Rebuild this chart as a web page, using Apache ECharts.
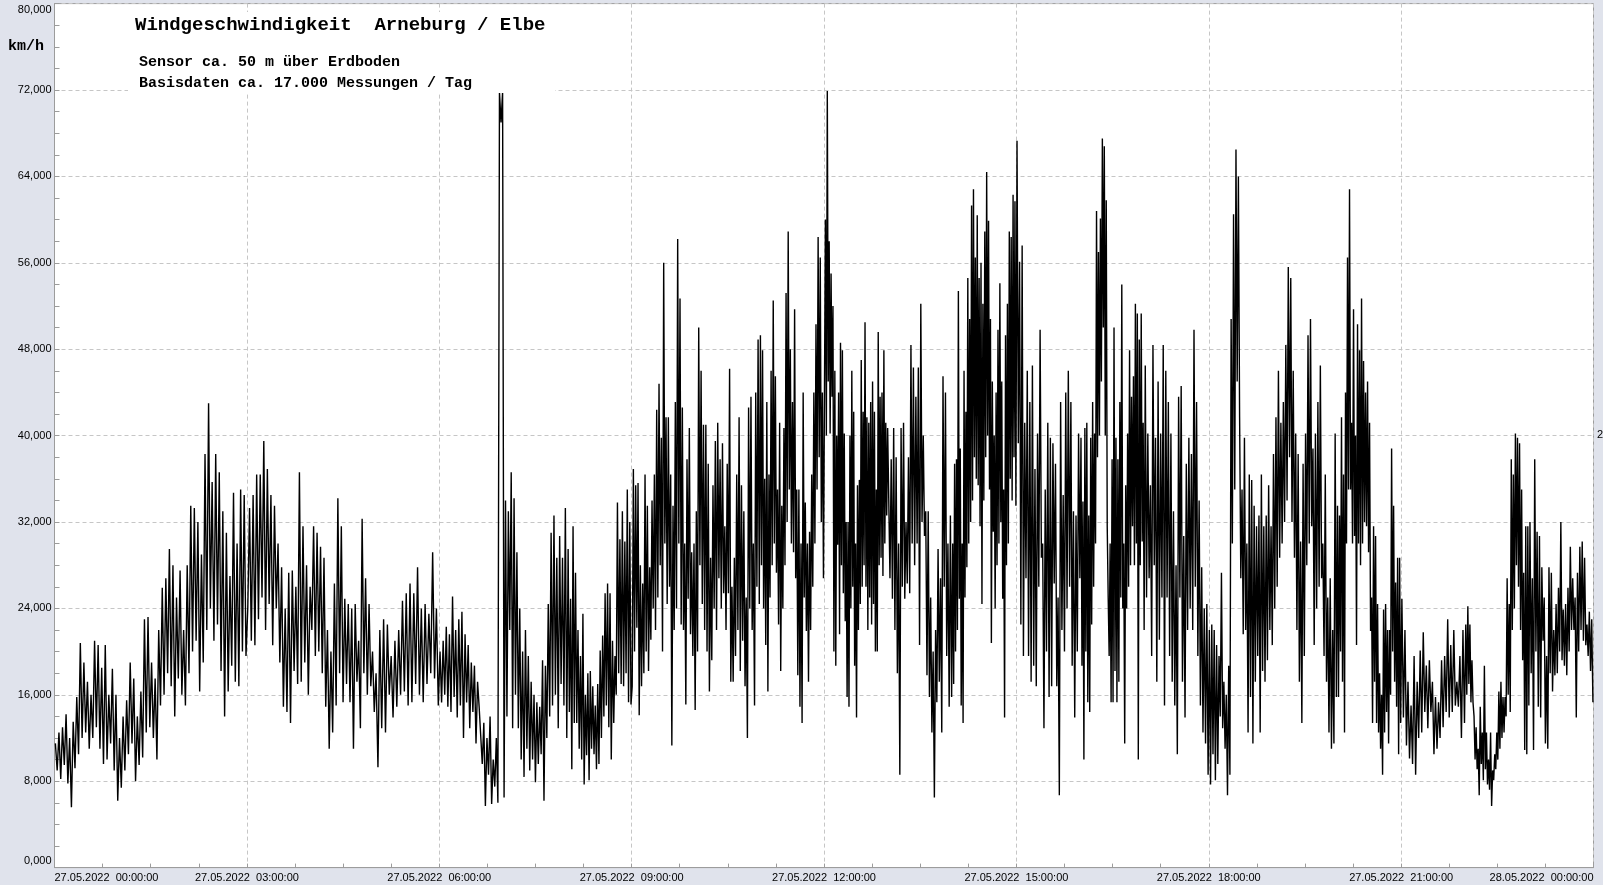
<!DOCTYPE html>
<html>
<head>
<meta charset="utf-8">
<script src="https://cdn.jsdelivr.net/npm/echarts@6/dist/echarts.min.js"></script>
<style>
html,body{margin:0;padding:0;background:#E0E3EC;}
#chart{width:1603px;height:885px;}
</style>
</head>
<body>
<div id="chart"></div>
<script>
// ---- tick labels ----
const xTickLabels = ['27.05.2022  00:00:00','27.05.2022  03:00:00','27.05.2022  06:00:00','27.05.2022  09:00:00',
  '27.05.2022  12:00:00','27.05.2022  15:00:00','27.05.2022  18:00:00','27.05.2022  21:00:00','28.05.2022  00:00:00'];
const yTickLabels = ['0,000','8,000','16,000','24,000','32,000','40,000','48,000','56,000','64,000','72,000','80,000'];

// ---- wind speed (km/h), one array per hour, values evenly spread across the hour ----
const h00 = [11.5,9.0,12.5,8.2,13.0,9.5,14.2,7.8,12.0,5.6,13.5,9.2,15.8,10.5,20.8,12.0,19.0,12.5,17.2,11.0,16.0,12.0,21.0,13.0,20.6,11.0,18.5,9.6,20.6,10.0,16.0,11.5,18.4,9.0,16.0,6.2];
const h01 = [12.0,7.4,14.0,9.0,15.5,10.5,19.0,11.5,17.5,8.0,14.0,9.5,16.3,10.2,23.0,12.5,23.2,13.0,19.0,12.0,17.5,10.0,22.0,15.0,25.9,16.0,26.8,18.0,29.5,16.8,28.0,14.0,25.0,17.5,27.5,16.0];
const h02 = [22.0,15.0,28.0,18.0,33.5,20.0,33.3,21.0,32.0,16.3,29.0,19.0,38.3,22.0,43.0,24.0,35.7,21.0,38.3,22.5,36.6,18.2,33.0,14.0,31.0,16.3,27.0,18.7,34.7,17.2,30.0,16.8,35.0,20.0,34.5,19.6];
const h03 = [24.0,33.3,21.0,34.5,20.6,36.4,23.0,36.4,25.0,39.5,22.0,36.9,24.4,34.5,20.6,33.5,24.0,30.0,19.0,27.8,14.9,24.0,14.4,27.3,13.4,27.5,18.2,26.0,17.0,36.6,17.2,31.6,19.0,28.0,16.0,26.0];
const h04 = [22.0,31.6,19.6,31.0,20.0,29.7,18.0,28.7,14.9,22.0,11.0,20.0,12.5,26.3,15.0,34.2,18.0,31.6,15.3,24.9,17.0,24.4,15.3,24.0,11.0,24.4,17.2,21.0,12.9,32.3,18.0,26.8,16.0,24.4,16.8,20.0,14.4];
const h05 = [18.0,9.3,22.0,12.9,23.0,12.5,22.5,16.0,19.6,13.9,21.0,14.9,22.0,16.0,24.7,16.3,25.4,15.0,26.3,15.3,25.4,17.0,27.8,16.0,24.0,15.3,24.4,17.0,23.5,18.0,29.2,17.5,24.0,15.0];
const h06 = [20.0,15.3,21.0,16.0,22.3,14.9,21.6,14.4,25.1,15.8,22.0,13.9,23.0,15.0,23.7,12.0,21.6,15.3,20.6,12.9,19.0,14.4,18.7,11.5,17.2,14.9,15.0,9.6,13.4,5.7,12.0,8.6,14.0,5.9,10.0,7.5,12.0,6.0,71.8,69.0,71.8];
const h07 = [6.5,34.0,14.0,33.0,22.0,36.6,12.9,34.2,16.0,29.2,12.9,24.0,10.0,20.0,8.4,22.0,11.0,19.6,9.0,17.2,10.0,16.0,7.9,15.3,9.6,14.9,10.5,19.2,6.2,18.7,12.0,24.4,14.0,31.0,15.0,32.6,16.0,28.7,12.9,30.7,17.0,28.7,15.0,33.3,12.0];
const h08 = [29.5,14.4,24.9,9.1,31.6,13.4,27.3,13.4,22.0,11.0,19.6,10.0,23.5,7.7,16.0,10.4,18.0,8.1,18.2,11.0,16.8,10.5,15.0,9.1,17.0,9.6,20.1,12.0,21.5,14.0,25.4,15.0,26.3,13.0,25.4,10.0,21.0,13.4,19.6,16.0,33.8,18.0,30.4,17.0,33.0,16.8,30.2,18.0,35.0,15.3,32.0,15.1];
const h09 = [16.8,36.9,20.0,35.4,22.2,35.6,14.1,28.0,16.8,26.3,18.0,36.4,20.0,33.5,18.2,27.8,21.1,34.0,24.0,36.4,22.0,42.4,25.0,44.8,28.0,39.8,20.0,56.0,30.0,41.7,24.4,41.7,26.0,36.4,11.3,33.5,22.0,43.1,24.0,58.2,30.0,52.7,22.5,42.6,22.0,30.0,15.1,37.8,24.9,40.7,21.6,29.2,19.6,30.0,14.6];
const h10 = [33.0,20.0,50.0,28.0,46.0,24.4,41.0,22.0,41.0,20.0,37.4,16.3,28.7,19.2,35.4,24.0,39.5,22.0,41.2,26.8,37.8,24.0,39.3,25.4,31.6,22.0,37.4,25.4,46.2,17.2,26.0,17.2,28.7,19.6,36.4,22.0,41.7,18.2,35.4,21.0,33.0,16.8,25.0,12.0,42.6,24.0,43.6,22.0,30.0,15.0,44.0,26.0,48.9,24.4];
const h11 = [49.3,28.0,47.9,24.0,36.0,20.6,43.1,16.3,36.4,25.0,46.0,28.0,52.5,30.0,45.5,27.3,35.0,22.5,41.2,18.2,33.5,24.0,40.7,28.0,53.2,32.0,58.9,35.0,48.0,30.0,43.1,29.2,51.7,26.8,35.0,17.8,35.0,14.9,30.0,13.4,44.0,25.0,33.8,21.9,30.0,17.2,31.1,22.0,36.4,26.0,44.0,30.0,50.3,35.0,58.4,38.0,56.5,32.0,44.0,26.8];
const h12 = [44.0,60.0,40.0,71.9,45.0,58.0,40.2,55.0,43.6,52.0,20.0,46.0,18.7,40.0,29.9,44.0,21.6,48.6,28.0,47.9,25.4,40.2,22.8,32.0,15.8,32.0,14.9,40.0,24.0,46.0,26.0,42.2,18.7,30.0,13.9,35.4,22.0,35.9,24.4,47.0,26.0,42.2,28.0,50.5,26.0,41.7,22.0,41.2,25.0,43.1,22.5,45.0,24.4,42.2,20.0,35.0,20.0,49.6,28.0,43.6,28.7,44.0,27.0,47.9,30.0,41.2,32.6,40.7];
const h13 = [40.7,26.8,37.8,24.9,40.7,22.0,38.0,18.0,30.0,8.6,40.7,26.0,41.2,24.9,32.0,26.3,38.0,25.4,48.4,30.0,46.3,28.0,43.6,30.0,46.3,20.6,52.2,32.0,40.0,30.7,33.0,17.8,33.0,15.8,25.0,12.5,20.0,6.5,22.0,15.3,29.5,17.2,26.8,12.5,45.5,26.0,44.0,19.6,30.0,14.9,32.6,15.8];
const h14 = [30.0,17.0,37.4,20.0,37.8,22.0,53.4,24.9,38.8,15.0,30.0,13.4,46.0,25.0,42.2,27.8,54.6,30.0,50.8,32.0,61.3,34.0,62.8,38.0,56.5,36.0,60.4,35.4,54.6,31.6,56.0,24.4,52.2,34.0,58.9,38.0,64.4,40.0,59.9,35.0,50.8,20.8,45.0,31.1,40.0,24.0,44.0,28.0,49.8,30.0,54.1,32.0,45.0,24.9,35.0,13.9,49.3,28.0,52.2,30.0,58.9,36.0,58.4,34.0,62.3,38.0,61.7,33.5];
const h15 = [67.3,39.3,56.1,22.5,57.6,19.6,41.2,26.8,46.0,19.6,43.1,17.2,46.5,18.7,36.9,16.8,40.2,26.0,49.8,28.7,30.0,12.9,35.0,20.0,41.2,15.8,39.8,16.8,39.3,26.3,37.4,16.8,25.0,6.7,43.1,22.0,34.5,20.0,44.0,24.0,46.0,26.0,43.1,18.7,33.0,13.9,32.6,20.0,40.2,26.8];
const h16 = [39.8,18.7,33.9,10.0,40.7,20.0,41.2,15.3,32.6,14.4,39.8,22.5,43.1,26.0,40.2,30.0,60.8,38.0,57.0,40.0,60.1,45.0,67.5,50.0,66.8,40.0,61.8,31.6,25.0,19.6,30.0,15.3,37.8,15.3,50.0,18.2,39.8,15.3,37.8,17.2,43.1,25.0,54.0,24.0,30.0,11.5,35.4,24.0,40.2,26.0,47.9,28.0,43.6,31.6,45.5,28.0,52.2,30.0,51.3,10.0,48.9,28.0,51.3,30.2,41.2,22.0];
const h17 = [46.5,25.0,40.2,26.8,35.4,19.6,48.4,28.0,39.8,17.2,45.0,21.1,40.2,25.0,48.4,15.0,46.0,25.0,43.1,19.6,40.2,17.2,33.0,15.0,28.0,10.5,43.6,25.0,44.6,17.2,30.7,13.9,37.4,22.0,39.8,24.0,38.3,22.0,49.8,26.0,43.1,19.6,34.0,15.0,27.8,12.5,24.0,11.5,24.4,8.6];
const h18 = [22.0,7.7,22.5,10.5,22.0,8.1,20.6,9.6,19.6,14.0,27.3,12.9,17.2,11.0,16.0,6.7,18.7,8.6,50.8,30.0,60.5,35.0,66.5,45.0,64.0,41.7,26.8,35.0,21.6,39.8,22.0,30.0,12.5,36.4,15.8,35.9,11.5,33.5,17.2,31.6,19.6,32.6,12.5,36.4,18.2,31.6,17.2,32.6,19.2,35.4,22.0,31.6,20.6];
const h19 = [38.3,24.0,41.7,26.0,46.0,28.7,41.2,30.0,43.1,32.0,48.4,34.0,55.6,38.0,54.6,32.0,46.0,28.7,40.2,22.0,38.3,17.2,30.2,13.4,37.4,19.6,40.2,28.0,49.3,30.0,50.8,31.6,38.8,20.6,40.2,24.0,43.1,26.0,46.5,26.8,30.0,19.6,36.4,17.2,25.0,12.5,26.8,11.0,22.0,11.5,40.2,15.8];
const h20 = [33.5,15.8,32.6,20.0,41.7,17.2,36.4,12.5,44.0,30.0,56.5,35.0,62.8,35.0,41.2,30.0,51.7,30.7,40.0,20.6,50.3,30.0,47.9,28.0,52.7,30.0,46.9,32.0,44.0,31.6,45.0,29.2,41.2,21.9,25.0,13.4,31.6,17.2,30.7,13.4,24.4,12.5,18.0,11.0,16.0,8.6,23.9,12.5,24.4,14.4,22.0,11.5,22.0,16.0,38.8,20.0,33.5,17.2,26.4,14.9,28.7,10.5,28.7,13.4];
const h21 = [24.9,13.9,22.0,11.3,17.2,10.1,15.0,9.6,19.6,8.6,17.2,12.0,20.1,12.5,21.8,14.4,18.7,12.9,19.2,14.4,17.2,10.5,15.8,11.0,15.3,12.0,19.2,13.0,19.6,14.4,23.0,13.9,20.6,14.4,22.0,15.0,17.2,14.9,19.6,12.0,22.0,13.4];
const h22 = [22.5,16.0,24.2,17.0,22.5,15.3,19.2,15.3,14.0,10.0,13.0,9.1,11.0,6.7,14.9,9.6,12.5,8.1,18.7,9.1,12.5,7.7,10.0,7.2,12.5,5.7,9.0,8.1,10.5,9.1,12.5,10.0,16.3,11.0,17.2,12.0,15.8,12.5,15.8,14.0,26.8,16.0,24.4,14.4,37.8,22.0,36.4,24.0,40.2,28.0,39.8,26.0,39.3,22.0,35.0,19.2,27.3,10.9,31.6,10.5,31.6,15.0];
const h23 = [32.0,18.0,26.8,10.9,37.8,20.0,31.1,14.9,30.7,13.9,27.8,21.0,25.0,11.5,19.6,11.0,27.8,18.0,27.3,16.3,22.0,17.8,24.4,18.0,25.9,20.0,32.0,19.2,23.9,18.7,24.4,17.8,25.9,20.0,29.7,22.0,26.8,22.0,25.0,13.9,27.3,20.0,29.7,22.0,30.2,21.0,28.7,20.6,22.5,19.6,23.7,18.2,23.0,15.3];

const hourArrays = [h00,h01,h02,h03,h04,h05,h06,h07,h08,h09,h10,h11,h12,h13,h14,h15,h16,h17,h18,h19,h20,h21,h22,h23];
const seriesData = [];
hourArrays.forEach((arr, k) => {
  arr.forEach((v, i) => seriesData.push([k + (i + 0.5) / arr.length, v]));
});

const chart = echarts.init(document.getElementById('chart'), null, {renderer: 'canvas'});
const axisGray = '#9c9c9c';
const gridGray = '#c6c6c6';
const labelFont = {fontFamily: '"Liberation Sans", Arial, sans-serif', fontSize: 11, color: '#000'};

chart.setOption({
  animation: false,
  backgroundColor: '#E0E3EC',
  grid: {left: 54.5, top: 3.6, width: 1539, height: 864, show: true, backgroundColor: '#ffffff', borderColor: axisGray, borderWidth: 1},
  xAxis: {
    type: 'value', min: 0, max: 24, interval: 3,
    axisLine: {show: true, onZero: false, lineStyle: {color: axisGray}},
    axisTick: {show: true, inside: true, length: 4, lineStyle: {color: axisGray}},
    minorTick: {show: true, splitNumber: 4, length: 4, lineStyle: {color: axisGray}},
    splitLine: {show: true, lineStyle: {color: gridGray, type: [4, 3], width: 1}},
    axisLabel: Object.assign({}, labelFont, {
      margin: 5, alignMinLabel: 'left', alignMaxLabel: 'right',
      formatter: v => { const i = Math.round(v / 3); return xTickLabels[i] || ''; }
    })
  },
  yAxis: {
    type: 'value', min: 0, max: 80, interval: 8,
    axisLine: {show: true, onZero: false, lineStyle: {color: axisGray}},
    axisTick: {show: true, inside: true, length: 5, lineStyle: {color: axisGray}},
    minorTick: {show: true, splitNumber: 4, length: 5, lineStyle: {color: axisGray}},
    splitLine: {show: true, lineStyle: {color: gridGray, type: [4, 3], width: 1}},
    axisLabel: Object.assign({}, labelFont, {
      margin: 3,
      formatter: v => {
        const i = Math.round(v / 8);
        const s = yTickLabels[i];
        if (i === 10) return '{top|' + s + '}';
        if (i === 0) return '{bot|' + s + '}';
        return s;
      },
      rich: {
        top: Object.assign({}, labelFont, {padding: [12, 0, 0, 0]}),
        bot: Object.assign({}, labelFont, {padding: [0, 0, 13, 0]})
      }
    })
  },
  series: [{
    type: 'line',
    data: seriesData,
    showSymbol: false,
    symbol: 'none',
    sampling: null,
    clip: true,
    lineStyle: {color: '#000000', width: 1.4},
    z: 2
  }],
  graphic: [
    {type: 'rect', z: 50, shape: {x: 128, y: 12, width: 427, height: 81}, style: {fill: '#ffffff'}},
    {type: 'text', z: 60, style: {x: 135, y: 25, text: 'Windgeschwindigkeit  Arneburg / Elbe', font: 'bold 19px "Liberation Mono", "Courier New", monospace', fill: '#000', textVerticalAlign: 'middle'}},
    {type: 'text', z: 60, style: {x: 139, y: 62, text: 'Sensor ca. 50 m über Erdboden', font: 'bold 15px "Liberation Mono", "Courier New", monospace', fill: '#000', textVerticalAlign: 'middle'}},
    {type: 'text', z: 60, style: {x: 139, y: 83, text: 'Basisdaten ca. 17.000 Messungen / Tag', font: 'bold 15px "Liberation Mono", "Courier New", monospace', fill: '#000', textVerticalAlign: 'middle'}},
    {type: 'text', z: 60, style: {x: 8, y: 46, text: 'km/h', font: 'bold 15px "Liberation Mono", "Courier New", monospace', fill: '#000', textVerticalAlign: 'middle'}},
    {type: 'text', z: 60, style: {x: 1597, y: 435, text: '2', font: '11px "Liberation Sans", Arial, sans-serif', fill: '#000', textVerticalAlign: 'middle'}}
  ]
});
</script>
</body>
</html>
